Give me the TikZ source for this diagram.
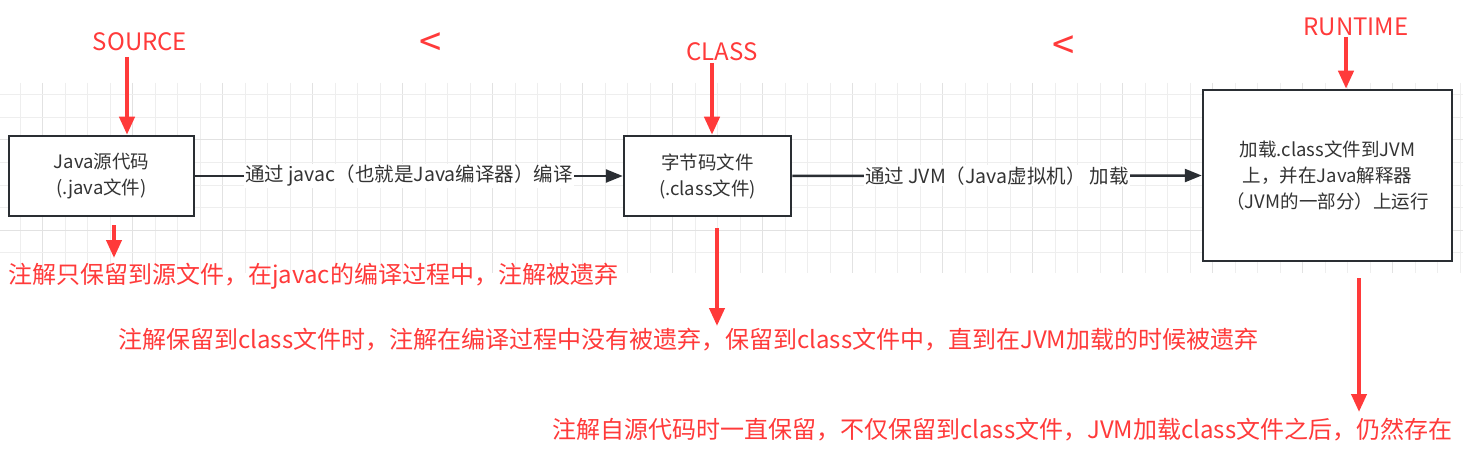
\documentclass[tikz,border=0pt]{standalone}
\usepackage{fontspec}
\setmainfont{Noto Sans CJK SC}
\usetikzlibrary{arrows.meta}
\definecolor{annored}{RGB}{255,58,58}
\definecolor{boxgray}{RGB}{42,46,51}
\definecolor{inktext}{RGB}{51,51,51}
\definecolor{gridminor}{RGB}{238,238,238}
\definecolor{gridmajor}{RGB}{226,226,226}
\tikzset{arrow/.style={draw,-{Triangle[length=17pt,width=13pt]},line width=2.5pt,#1}}
\tikzset{arrow/.default={boxgray}}
\tikzset{redarrow/.style={draw=annored,-{Triangle[length=18pt,width=15pt]},line width=4pt}}
\tikzset{stage/.style={draw=boxgray,line width=2.5pt,fill=white,align=center,text=inktext,font={\fontsize{18.5pt}{26pt}\selectfont}}}
\tikzset{edgelabel/.style={fill=white,text=inktext,inner sep=1pt,font={\fontsize{19.5pt}{22pt}\selectfont}}}
\tikzset{note/.style={text=annored,inner sep=0pt,font={\fontsize{24pt}{28pt}\selectfont}}}

\begin{document}
\begin{tikzpicture}[x=1pt,y=-1pt]
        \useasboundingbox[fill=white] (0,0) rectangle (1478,468);
        % background grid
        \foreach \k in {0,...,64}{
            \pgfmathtruncatemacro{\m}{mod(\k,4)}
            \ifnum\m=1 \def\gc{gridmajor}\else\def\gc{gridminor}\fi
            \draw[\gc,line width=1pt] (20+22.5*\k,83) -- (20+22.5*\k,273);
        }
        \foreach \k in {0,...,7}{
            \pgfmathtruncatemacro{\m}{mod(\k,4)}
            \ifnum\m=2 \def\gc{gridmajor}\else\def\gc{gridminor}\fi
            \draw[\gc,line width=1pt] (0,95+22.5*\k) -- (1463,95+22.5*\k);
        }
        % stages
        \node[stage,minimum width=185pt,minimum height=80pt] (src) at (101.5,176) {Java源代码\\(.java文件)};
        \node[stage,minimum width=167pt,minimum height=80pt] (cls) at (707.5,176) {字节码文件\\(.class文件)};
        \node[stage,minimum width=249pt,minimum height=171pt] (rt) at (1327.5,175.5) {加载.class文件到JVM\\上，并在Java解释器\\（JVM的一部分）上运行};
        \path[arrow] (src.east) -- (cls.west) node[edgelabel,midway] {通过 javac（也就是Java编译器）编译};
        \path[arrow] (cls.east) -- (rt.west) node[edgelabel,midway] {通过 JVM（Java虚拟机） 加载};
        % retention names
        \node[note] (srcname) at (140,42) {SOURCE};
        \node[note] (clsname) at (722,52) {CLASS};
        \node[note] (rtname) at (1356,27) {RUNTIME};
        \node[note,font={\fontsize{40pt}{40pt}\selectfont}] (lt1) at (431,45) {<};
        \node[note,font={\fontsize{40pt}{40pt}\selectfont}] (lt2) at (1064,48) {<};
        \coordinate (srctop) at (127,57);
        \coordinate (clstop) at (712,63);
        \coordinate (rttop) at (1346,37);
        \path[redarrow] (srctop) -- (srctop |- src.north);
        \path[redarrow] (clstop) -- (clstop |- cls.north);
        \path[redarrow] (rttop) -- (rttop |- rt.north);
        % retention notes
        \node[note,anchor=west] (srcnote) at (8,276) {注解只保留到源文件，在javac的编译过程中，注解被遗弃};
        \node[note,anchor=west] (clsnote) at (118,340) {注解保留到class文件时，注解在编译过程中没有被遗弃，保留到class文件中，直到在JVM加载的时候被遗弃};
        \node[note,anchor=west] (rtnote) at (552,430) {注解自源代码时一直保留，不仅保留到class文件，JVM加载class文件之后，仍然存在};
        \coordinate (srcbot) at (114,225);
        \coordinate (clsbot) at (717,228);
        \coordinate (rtbot) at (1359,278);
        \coordinate (srctip) at (114,258);
        \coordinate (clstip) at (717,326);
        \coordinate (rttip) at (1359,412);
        \path[redarrow] (srcbot) -- (srctip);
        \path[redarrow] (clsbot) -- (clstip);
        \path[redarrow] (rtbot) -- (rttip);
    \end{tikzpicture}
\end{document}
